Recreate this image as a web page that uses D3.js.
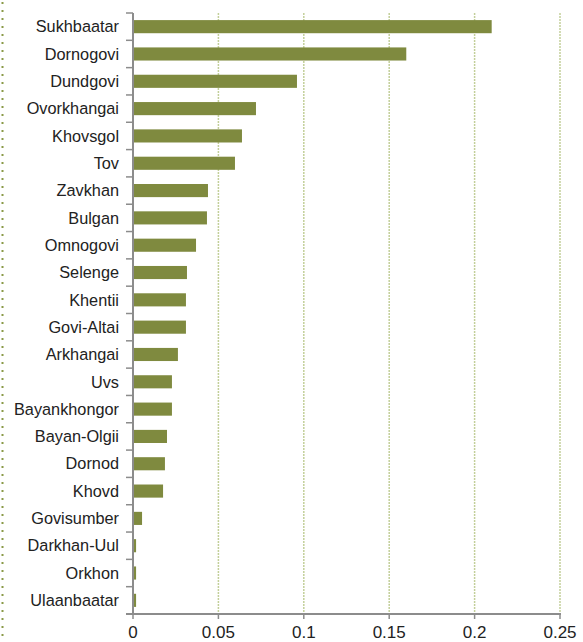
<!DOCTYPE html>
<html>
<head>
<meta charset="utf-8">
<script src="https://cdn.jsdelivr.net/npm/d3@7"></script>
<style>
  body { margin: 0; background: #fff; }
  svg { display: block; font-family: "Liberation Sans", Arial, sans-serif; }
</style>
</head>
<body>
<div id="chart"></div>
<script>
const regions = ['Sukhbaatar', 'Dornogovi', 'Dundgovi', 'Ovorkhangai', 'Khovsgol', 'Tov',
  'Zavkhan', 'Bulgan', 'Omnogovi', 'Selenge', 'Khentii', 'Govi-Altai', 'Arkhangai', 'Uvs',
  'Bayankhongor', 'Bayan-Olgii', 'Dornod', 'Khovd', 'Govisumber', 'Darkhan-Uul', 'Orkhon', 'Ulaanbaatar'];
const shares = [0.210, 0.160, 0.096, 0.072, 0.0638, 0.0597,
  0.0439, 0.0433, 0.0369, 0.0316, 0.031, 0.031, 0.0263, 0.0228,
  0.0228, 0.0199, 0.0187, 0.0176, 0.0053, 0.0018, 0.0018, 0.0018];
const xTicks = [0, 0.05, 0.1, 0.15, 0.2, 0.25];

const width = 583, height = 642;
const svg = d3.select('#chart').append('svg')
  .attr('width', width)
  .attr('height', height);

// dotted frame edge on the left
svg.append('line')
  .attr('x1', 2.5).attr('x2', 2.5)
  .attr('y1', 2).attr('y2', height)
  .attr('stroke', '#8a9a48')
  .attr('stroke-width', 2)
  .attr('stroke-dasharray', '2,6');

const x = d3.scaleLinear().domain([0, 0.25]).range([133, 560]);
const y = d3.scaleBand().domain(regions).range([13, 614]).paddingInner(0.52).paddingOuter(0.26);

// gridlines
svg.append('g').selectAll('line')
  .data(xTicks.slice(1))
  .join('line')
  .attr('x1', d => x(d)).attr('x2', d => x(d))
  .attr('y1', 13).attr('y2', 614)
  .attr('stroke', '#c3cf9a')
  .attr('stroke-width', 1.5)
  .attr('stroke-dasharray', '2,1');

// bars
svg.append('g').selectAll('rect')
  .data(shares)
  .join('rect')
  .attr('x', x(0))
  .attr('y', (d, i) => y(regions[i]))
  .attr('width', d => x(d) - x(0))
  .attr('height', y.bandwidth())
  .attr('fill', '#7f8a3f');

// y axis: line + ticks at band boundaries
const axisColor = '#8c8c8c';
const bounds = d3.range(regions.length + 1).map(i => 13 + i * (601 / regions.length));
svg.append('line')
  .attr('x1', x(0)).attr('x2', x(0))
  .attr('y1', 13).attr('y2', 615)
  .attr('stroke', axisColor).attr('stroke-width', 2);
svg.append('g').selectAll('line')
  .data(bounds)
  .join('line')
  .attr('x1', 126).attr('x2', x(0))
  .attr('y1', d => d).attr('y2', d => d)
  .attr('stroke', axisColor).attr('stroke-width', 1.5);

svg.append('g').selectAll('text')
  .data(regions)
  .join('text')
  .attr('x', 119)
  .attr('y', d => y(d) + y.bandwidth() / 2)
  .attr('dy', '0.35em')
  .attr('text-anchor', 'end')
  .attr('font-size', 16.3)
  .attr('fill', '#222')
  .text(d => d);

// x axis
svg.append('line')
  .attr('x1', 126).attr('x2', x(0.25) + 1)
  .attr('y1', 614).attr('y2', 614)
  .attr('stroke', axisColor).attr('stroke-width', 2);
svg.append('g').selectAll('line')
  .data(xTicks)
  .join('line')
  .attr('x1', d => x(d)).attr('x2', d => x(d))
  .attr('y1', 614).attr('y2', 619)
  .attr('stroke', axisColor).attr('stroke-width', 1.5);
svg.append('g').selectAll('text')
  .data(xTicks)
  .join('text')
  .attr('x', d => x(d))
  .attr('y', 638)
  .attr('text-anchor', 'middle')
  .attr('font-size', 17)
  .attr('fill', '#222')
  .text(d => d);
</script>
</body>
</html>
